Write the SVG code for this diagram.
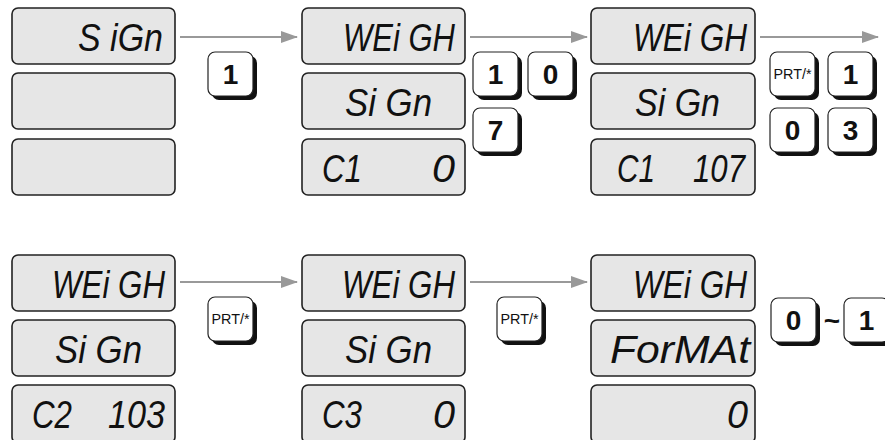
<svg xmlns="http://www.w3.org/2000/svg" width="885" height="440" viewBox="0 0 885 440">
<defs>
<style>
.lcd{fill:#e6e6e6;stroke:#222;stroke-width:1.6}
.seg{font-family:"Liberation Sans","DejaVu Sans",sans-serif;font-style:italic;font-size:38px;fill:#111}
.kb{fill:#111}
.kf{fill:#fff;stroke:#222;stroke-width:1.2}
.kt{font-family:"Liberation Sans",Arial,sans-serif;font-weight:bold;font-size:28px;fill:#111;text-anchor:middle}
.ks{font-family:"Liberation Sans",Arial,sans-serif;font-size:15px;fill:#111;text-anchor:middle}
.arr{stroke:#999;stroke-width:2;fill:none;marker-end:url(#ah)}
</style>
<marker id="ah" markerWidth="18" markerHeight="12" refX="16" refY="6" orient="auto" markerUnits="userSpaceOnUse">
<path d="M0,0 L17,6 L0,12 Z" fill="#999"/>
</marker>
<g id="key">
<rect class="kb" x="4" y="4" width="45" height="44" rx="7"/>
<rect class="kf" x="0" y="0" width="45" height="44" rx="7"/>
</g>
</defs>

<g id="connectors">
<line class="arr" x1="180" y1="37" x2="297" y2="37"/>
<line class="arr" x1="470" y1="37" x2="587" y2="37"/>
<line class="arr" x1="760" y1="37" x2="878" y2="37"/>
<line class="arr" x1="180" y1="282" x2="297" y2="282"/>
<line class="arr" x1="470" y1="282" x2="587" y2="282"/>
</g>

<g id="display-1">
<rect class="lcd" x="12" y="8" width="163" height="56" rx="6"/>
<rect class="lcd" x="12" y="73" width="163" height="56" rx="6"/>
<rect class="lcd" x="12" y="139" width="163" height="56" rx="6"/>
<text class="seg" x="78" y="51" textLength="85" lengthAdjust="spacingAndGlyphs">S iGn</text>
</g>

<g id="display-2">
<rect class="lcd" x="302" y="8" width="163" height="56" rx="6"/>
<rect class="lcd" x="302" y="73" width="163" height="56" rx="6"/>
<rect class="lcd" x="302" y="139" width="163" height="56" rx="6"/>
<text class="seg" x="343" y="51" textLength="112" lengthAdjust="spacingAndGlyphs">WEi GH</text>
<text class="seg" x="345" y="116" textLength="87" lengthAdjust="spacingAndGlyphs">Si Gn</text>
<text class="seg" x="322" y="182" textLength="40" lengthAdjust="spacingAndGlyphs">C1</text>
<text class="seg" x="432" y="182" textLength="23" lengthAdjust="spacingAndGlyphs">0</text>
</g>

<g id="display-3">
<rect class="lcd" x="591" y="8" width="164" height="56" rx="6"/>
<rect class="lcd" x="591" y="73" width="164" height="56" rx="6"/>
<rect class="lcd" x="591" y="139" width="164" height="56" rx="6"/>
<text class="seg" x="633" y="51" textLength="114" lengthAdjust="spacingAndGlyphs">WEi GH</text>
<text class="seg" x="635" y="116" textLength="85" lengthAdjust="spacingAndGlyphs">Si Gn</text>
<text class="seg" x="617" y="182" textLength="38" lengthAdjust="spacingAndGlyphs">C1</text>
<text class="seg" x="693" y="182" textLength="52" lengthAdjust="spacingAndGlyphs">107</text>
</g>

<g id="display-4">
<rect class="lcd" x="12" y="255" width="163" height="56" rx="6"/>
<rect class="lcd" x="12" y="320" width="163" height="56" rx="6"/>
<rect class="lcd" x="12" y="385" width="163" height="58" rx="6"/>
<text class="seg" x="52" y="298" textLength="113" lengthAdjust="spacingAndGlyphs">WEi GH</text>
<text class="seg" x="55" y="363" textLength="87" lengthAdjust="spacingAndGlyphs">Si Gn</text>
<text class="seg" x="32" y="428" textLength="40" lengthAdjust="spacingAndGlyphs">C2</text>
<text class="seg" x="108" y="428" textLength="57" lengthAdjust="spacingAndGlyphs">103</text>
</g>

<g id="display-5">
<rect class="lcd" x="302" y="255" width="163" height="56" rx="6"/>
<rect class="lcd" x="302" y="320" width="163" height="56" rx="6"/>
<rect class="lcd" x="302" y="385" width="163" height="58" rx="6"/>
<text class="seg" x="342" y="298" textLength="113" lengthAdjust="spacingAndGlyphs">WEi GH</text>
<text class="seg" x="345" y="363" textLength="87" lengthAdjust="spacingAndGlyphs">Si Gn</text>
<text class="seg" x="322" y="428" textLength="40" lengthAdjust="spacingAndGlyphs">C3</text>
<text class="seg" x="433" y="428" textLength="22" lengthAdjust="spacingAndGlyphs">0</text>
</g>

<g id="display-6">
<rect class="lcd" x="591" y="255" width="164" height="56" rx="6"/>
<rect class="lcd" x="591" y="320" width="164" height="56" rx="6"/>
<rect class="lcd" x="591" y="385" width="164" height="58" rx="6"/>
<text class="seg" x="633" y="298" textLength="114" lengthAdjust="spacingAndGlyphs">WEi GH</text>
<text class="seg" x="610" y="363" textLength="140" lengthAdjust="spacingAndGlyphs">ForMAt</text>
<text class="seg" x="727" y="428" textLength="21" lengthAdjust="spacingAndGlyphs">0</text>
</g>

<g id="keys-1">
<use href="#key" x="208" y="52"/><text class="kt" x="230.5" y="84">1</text>
</g>
<g id="keys-2">
<use href="#key" x="473" y="52"/><text class="kt" x="495.5" y="84">1</text>
<use href="#key" x="528" y="52"/><text class="kt" x="550.5" y="84">0</text>
<use href="#key" x="473" y="108"/><text class="kt" x="495.5" y="140">7</text>
</g>
<g id="keys-3">
<use href="#key" x="770" y="52"/><text class="ks" x="792.5" y="79" textLength="38" lengthAdjust="spacingAndGlyphs">PRT/*</text>
<use href="#key" x="828" y="52"/><text class="kt" x="850.5" y="84">1</text>
<use href="#key" x="770" y="108"/><text class="kt" x="792.5" y="140">0</text>
<use href="#key" x="828" y="108"/><text class="kt" x="850.5" y="140">3</text>
</g>
<g id="keys-4">
<use href="#key" x="208" y="297"/><text class="ks" x="230.5" y="324" textLength="38" lengthAdjust="spacingAndGlyphs">PRT/*</text>
</g>
<g id="keys-5">
<use href="#key" x="497" y="297"/><text class="ks" x="519.5" y="324" textLength="38" lengthAdjust="spacingAndGlyphs">PRT/*</text>
</g>
<g id="keys-6">
<use href="#key" x="771" y="298"/><text class="kt" x="793.5" y="330">0</text>
<text class="kt" x="832" y="330">~</text>
<use href="#key" x="844" y="298"/><text class="kt" x="866.5" y="330">1</text>
</g>
</svg>
